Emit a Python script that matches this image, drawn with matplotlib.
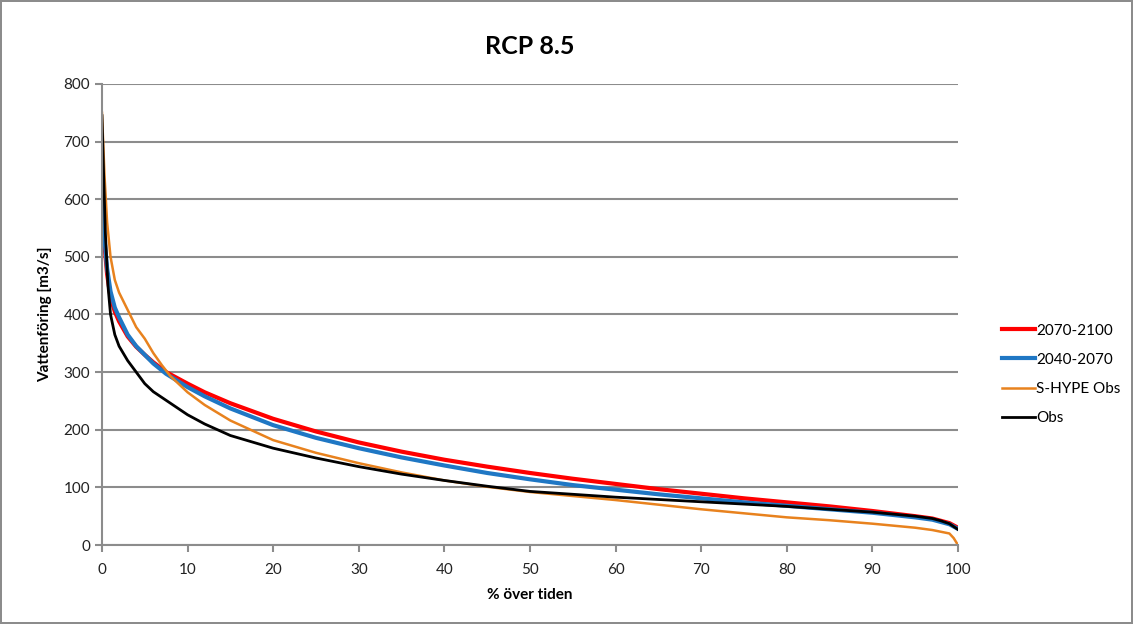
import numpy as np
from matplotlib import pyplot as plt

plt.rcParams['font.family'] = ['Lato', 'DejaVu Sans']

# varaktighetskurvor
x_2070 = [0, 0.3, 0.6, 1, 1.5, 2, 3, 4, 5, 6, 7.5, 10, 12, 15, 20, 25, 30, 35, 40, 45, 50, 55, 60, 65, 70, 75, 80, 85, 90, 95, 97, 98, 99, 100]
q_2070 = [590, 520, 470, 430, 405, 388, 362, 344, 330, 317, 300, 280, 265, 246, 219, 197, 178, 162, 148, 136, 125, 115, 106, 97, 89, 81, 74, 67, 59, 50, 46, 42, 38, 30]

x_2040 = [0, 0.3, 0.6, 1, 1.5, 2, 3, 4, 5, 6, 7.5, 10, 12, 15, 20, 25, 30, 35, 40, 45, 50, 55, 60, 65, 70, 75, 80, 85, 90, 95, 97, 98, 99, 100]
q_2040 = [600, 530, 480, 440, 412, 395, 365, 345, 330, 315, 297, 274, 258, 237, 208, 186, 168, 152, 138, 125, 114, 104, 96, 88, 81, 74, 68, 62, 56, 48, 44, 40, 36, 28]

x_shype = [0, 0.3, 0.6, 1, 1.5, 2, 3, 4, 5, 6, 7, 8, 10, 12, 15, 20, 25, 30, 35, 40, 45, 50, 55, 60, 65, 70, 75, 80, 85, 90, 95, 97, 98, 99, 99.5, 100]
q_shype = [750, 640, 560, 500, 460, 438, 408, 378, 358, 333, 312, 293, 265, 243, 216, 182, 160, 142, 126, 112, 101, 92, 85, 78, 70, 62, 55, 48, 43, 37, 30, 26, 23, 20, 12, 0]

x_obs = [0, 0.2, 0.4, 0.7, 1, 1.5, 2, 3, 4, 5, 6, 7, 8, 10, 12, 15, 20, 25, 30, 35, 40, 45, 50, 55, 60, 65, 70, 75, 80, 85, 90, 95, 97, 98, 99, 100]
q_obs = [745, 640, 540, 450, 400, 365, 345, 320, 300, 280, 266, 256, 246, 226, 210, 190, 168, 151, 136, 123, 112, 102, 93, 88, 83, 79, 75, 71, 67, 62, 57, 50, 46, 42, 37, 27]

fig = plt.figure(figsize=(11.33, 6.24), dpi=100)
fig.patch.set_edgecolor('#8c8c8c')
fig.patch.set_linewidth(1.5)
ax = fig.add_axes([0.090, 0.1266, 0.7555, 0.7388])

ax.plot(x_2070, q_2070, color='#ff0000', lw=3, label='2070-2100')
ax.plot(x_2040, q_2040, color='#1f77c4', lw=3, label='2040-2070')
ax.plot(x_shype, q_shype, color='#e8821e', lw=1.8, label='S-HYPE Obs')
ax.plot(x_obs, q_obs, color='black', lw=2, label='Obs')

ax.set_xlim(0, 100)
ax.set_ylim(0, 800)
ax.set_xticks(np.arange(0, 101, 10))
ax.set_yticks(np.arange(0, 801, 100))
ax.yaxis.grid(True, color='#8c8c8c', lw=1.5)
ax.set_axisbelow(True)
for s in ['top', 'right']:
    ax.spines[s].set_visible(False)
for s in ['left', 'bottom']:
    ax.spines[s].set_color('#8c8c8c')
    ax.spines[s].set_linewidth(1.5)
ax.tick_params(colors='#8c8c8c', width=1.5, length=5, labelcolor='#222222', labelsize=11)
ax.tick_params(axis='x', pad=8)

ax.set_xlabel('% över tiden', fontsize=11, fontweight='bold', labelpad=8)
ax.set_ylabel('Vattenföring [m3/s]', fontsize=11, fontweight='bold', labelpad=8)
fig.text(0.468, 0.925, 'RCP 8.5', fontsize=18, fontweight='bold', ha='center', va='center')

ax.legend(loc='center left', bbox_to_anchor=(1.035, 0.37), frameon=False, fontsize=11,
          handlelength=2.2, handletextpad=0.05, labelspacing=1.0)

plt.savefig('out.png')
